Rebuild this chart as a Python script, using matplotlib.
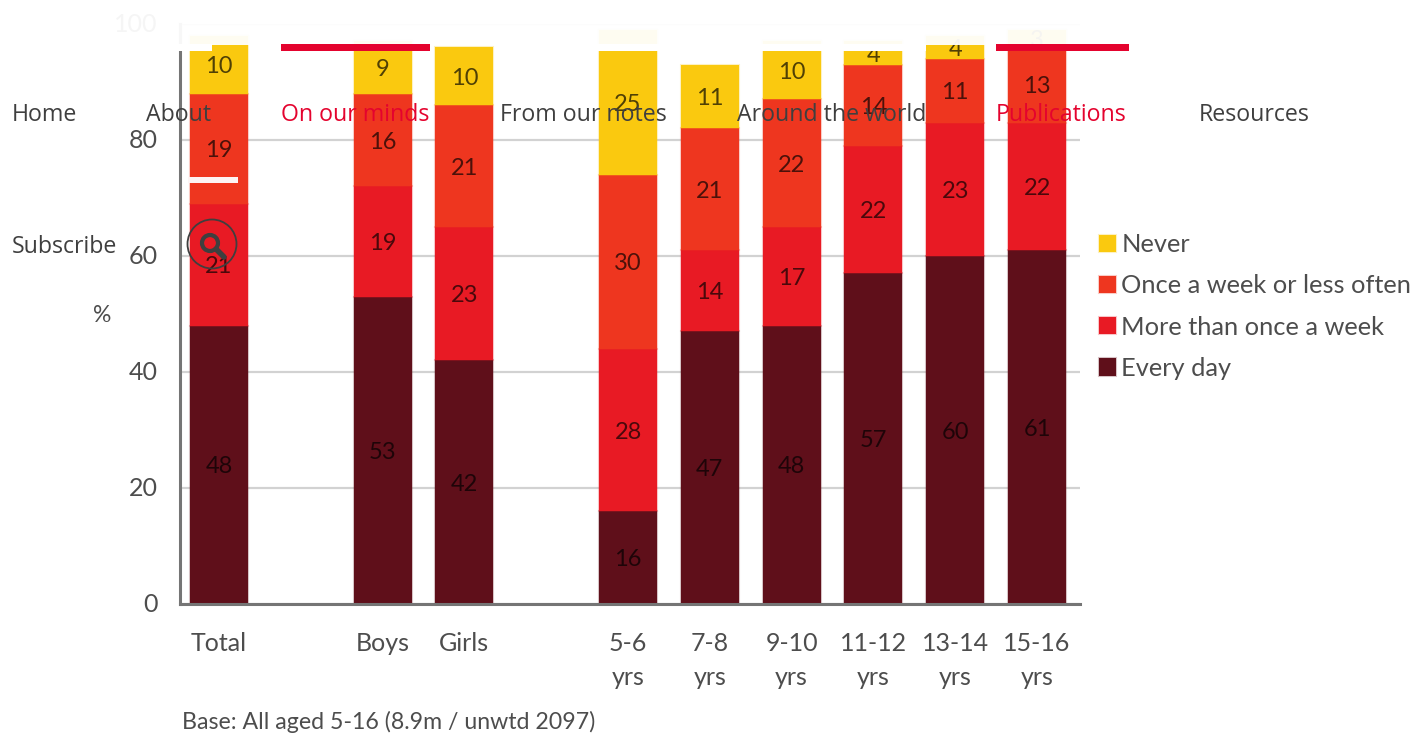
import matplotlib
matplotlib.use('Agg')
import matplotlib.pyplot as plt
from matplotlib.patches import Rectangle, Circle
from matplotlib.transforms import ScaledTranslation

W, H = 1418, 733

categories = ['Total', 'Boys', 'Girls', '5-6\nyrs', '7-8\nyrs', '9-10\nyrs',
              '11-12\nyrs', '13-14\nyrs', '15-16\nyrs']
slots = [0, 2, 3, 5, 6, 7, 8, 9, 10]

every_day = [48, 53, 42, 16, 47, 48, 57, 60, 61]
more_than_once = [21, 19, 23, 28, 14, 17, 22, 23, 22]
once_or_less = [19, 16, 21, 30, 21, 22, 14, 11, 13]
never = [10, 9, 10, 25, 11, 10, 4, 4, 3]

series = [('Every day', every_day, '#5f0f1a'),
          ('More than once a week', more_than_once, '#e81a24'),
          ('Once a week or less often', once_or_less, '#ee361f'),
          ('Never', never, '#fac90f')]

y_ticks = [0, 20, 40, 60, 80, 100]

nav_row = [('Home', 12, 76, False), ('About', 146, 212, False),
           ('On our minds', 281, 430, True), ('From our notes', 500, 666, False),
           ('Around the world', 737, 926, False), ('Publications', 996, 1129, True),
           ('Resources', 1199, 1308, False)]

CHART_FONT = ['Lato', 'DejaVu Sans']
TEXT = '#4d4d4d'

fig = plt.figure(figsize=(W / 100, H / 100), dpi=100, facecolor='white')
ax = fig.add_axes([180 / W, (H - 604) / H, 900 / W, 580 / H])

# stacked bars
bottom = [0] * len(slots)
for name, values, color in series:
    bars = ax.bar(slots, values, 0.71, bottom=bottom, color=color, label=name, zorder=2,
                  edgecolor=color + '40', linewidth=1.5)
    texts = ax.bar_label(bars, label_type='center', fontsize=17, family=CHART_FONT,
                         color='#000000', alpha=0.68, zorder=3)
    for t in texts:
        t.xyann = (0, -1.5)
    bottom = [b + v for b, v in zip(bottom, values)]

ax.set_xlim(-0.477, 10.525)
ax.set_ylim(0, 100)
ax.set_yticks(y_ticks)
ax.set_xticks(slots, categories)
ax.tick_params(axis='y', length=0, pad=16, labelsize=18, labelcolor=TEXT)
ax.tick_params(axis='x', length=0, pad=20, labelsize=18, labelcolor=TEXT)
for lab in ax.get_xticklabels() + ax.get_yticklabels():
    lab.set_family(CHART_FONT)
nudge_up = ScaledTranslation(0, 2 / 100, fig.dpi_scale_trans)
for lab in ax.get_yticklabels():
    lab.set_transform(lab.get_transform() + nudge_up)
for lab in ax.get_xticklabels():
    lab.set_linespacing(1.6)

ax.grid(axis='y', color='#d2d2d2', linewidth=1.6, zorder=0)
ax.set_axisbelow(True)
for side in ['top', 'right']:
    ax.spines[side].set_visible(False)
for side in ['left', 'bottom']:
    ax.spines[side].set_color('#757575')
    ax.spines[side].set_linewidth(2.2)

handles, labels = ax.get_legend_handles_labels()
ax.legend(handles[::-1], labels[::-1], loc='upper left', bbox_to_anchor=(1099 / W, (H - 233) / H),
          bbox_transform=fig.transFigure, frameon=False, prop={'family': CHART_FONT, 'size': 18.3},
          labelcolor=TEXT, handlelength=0.66, handleheight=0.66, handletextpad=0.22,
          labelspacing=0.72, borderpad=0, borderaxespad=0)

# page furniture in pixel coordinates on top of the chart
top = fig.add_axes([0, 0, 1, 1], facecolor='none', zorder=10)
top.set_xlim(0, W)
top.set_ylim(H, 0)
top.axis('off')

top.text(102, 315, '%', fontsize=16.5, family=CHART_FONT, color=TEXT, ha='center', va='center')
top.text(182, 722, 'Base: All aged 5-16 (8.9m / unwtd 2097)', fontsize=16.7, family=CHART_FONT,
         color=TEXT, ha='left', va='center')

top.add_patch(Rectangle((0, 0), W, 45, facecolor='white', alpha=0.95, edgecolor='none'))

RED = '#e4032e'
NAV_GREY = '#3f3f3f'
for label, x0, x1, active in nav_row:
    top.add_patch(Rectangle((x0, 44), x1 - x0, 7, facecolor=RED if active else 'white',
                            edgecolor='none'))
    top.text(x0, 115, label, fontsize=16.7, family='Open Sans', va='center', ha='left',
             color=RED if active else NAV_GREY)

top.text(12, 247, 'Subscribe', fontsize=16.7, family='Open Sans', va='center', ha='left',
         color=NAV_GREY)
top.add_patch(Rectangle((188, 177), 50, 6, facecolor='#fdf4f4', edgecolor='none'))

# search button
top.add_patch(Circle((212, 244), 24.5, facecolor='none', edgecolor=NAV_GREY, linewidth=1.3))
top.add_patch(Circle((210, 243), 8, facecolor='none', edgecolor=NAV_GREY, linewidth=3))
top.plot([216, 224], [249, 257], color=NAV_GREY, linewidth=4, solid_capstyle='round')

fig.savefig('out.png', dpi=100)
